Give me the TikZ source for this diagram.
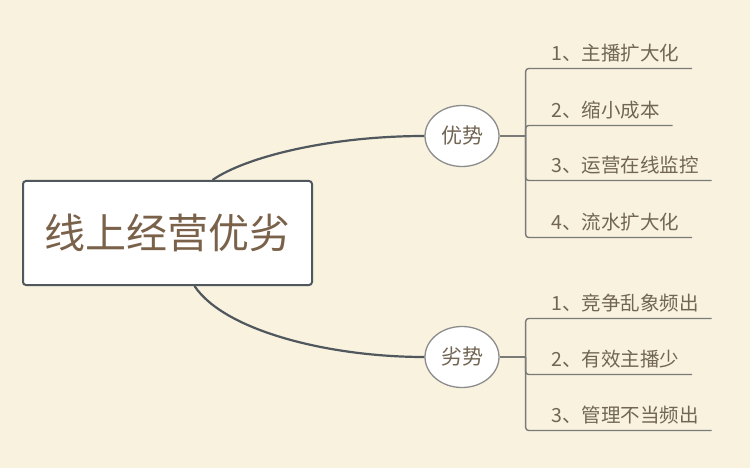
\documentclass[tikz,border=0pt]{standalone}
\usepackage{fontspec}
\setmainfont{Noto Sans CJK SC}
\usetikzlibrary{shapes.geometric}

\definecolor{paper}{HTML}{F8F2DF}
\definecolor{boxline}{HTML}{50575D}
\definecolor{bubble}{HTML}{8C8C8C}
\definecolor{twigline}{HTML}{7A7A78}
\definecolor{topictext}{HTML}{7A6149}
\definecolor{leaftext}{HTML}{726553}

\begin{document}
\begin{tikzpicture}[x=1pt, y=-1pt,
    topic/.style={draw=boxline, line width=2pt, fill=white, rounded corners=3pt,
        minimum width=289pt, minimum height=104pt, text=topictext,
        font=\fontsize{41}{41}\selectfont},
    side/.style={ellipse, draw=bubble, line width=1.3pt, fill=white, inner sep=0pt,
        minimum width=74pt, minimum height=61pt, text=leaftext,
        font=\fontsize{21}{21}\selectfont},
    leaf/.style={anchor=west, inner sep=0pt, text=leaftext,
        font=\fontsize{19.5}{19.5}\selectfont},
    trunk/.style={draw=boxline, line width=2.2pt},
    twig/.style={draw=twigline, line width=1.4pt, rounded corners=3pt}]

    % Paper background, also fixes the size of the page
    \fill[paper] (0,0) rectangle (750,468);

    % Central topic and the two branches
    \node[topic] (main) at (167.5,233) {线上经营优劣};
    \node[side] (good) at (462,136) {优势};
    \node[side] (bad) at (462,357) {劣势};

    % Curved trunks from the topic box
    \draw[trunk] ([xshift=45pt]main.north) .. controls +(33,-23) and +(-95,0) .. (good.west);
    \draw[trunk] ([xshift=27pt]main.south) .. controls +(30,45) and +(-95,0) .. (bad.west);

    % Stubs to the vertical buses
    \coordinate (gbus) at ([xshift=26pt]good.east);
    \coordinate (bbus) at ([xshift=26pt]bad.east);
    \draw[twig] (good.east) -- (gbus);
    \draw[twig] (bad.east) -- (bbus);

    % Items under each branch, underlined
    \foreach \y/\t [count=\i] in {53/{1、主播扩大化}, 110/{2、缩小成本},
            165/{3、运营在线监控}, 222/{4、流水扩大化}} {
        \node[leaf] (g\i) at (551,\y) {\t};
        \draw[twig] (gbus) |- ([shift={(13pt,-15.5pt)}]g\i.east);
    }
    \foreach \y/\t [count=\i] in {303/{1、竞争乱象频出}, 359/{2、有效主播少},
            415/{3、管理不当频出}} {
        \node[leaf] (b\i) at (551,\y) {\t};
        \draw[twig] (bbus) |- ([shift={(13pt,-15.5pt)}]b\i.east);
    }
\end{tikzpicture}
\end{document}
